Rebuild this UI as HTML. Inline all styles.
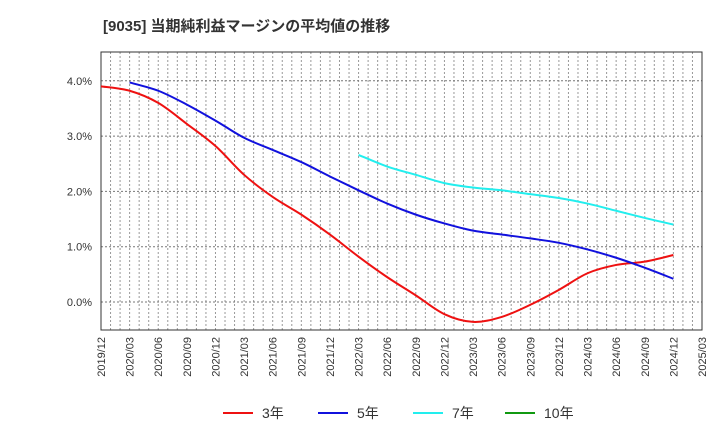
<!DOCTYPE html>
<html><head><meta charset="utf-8"><style>
body{margin:0;background:#fff;font-family:"Liberation Sans","Noto Sans CJK JP",sans-serif;}
</style></head><body>
<svg width="720" height="440" xmlns="http://www.w3.org/2000/svg" font-family="Liberation Sans, Noto Sans CJK JP, sans-serif">
<text x="103" y="31" font-size="15" font-weight="bold" fill="#333">[9035]  当期純利益マージンの平均値の推移</text>
<g id="grid"></g>
<rect x="101" y="52" width="601" height="278" fill="none" stroke="#333"/>
<g id="ylab"></g>
<g id="xlab"></g>
<g id="series"></g>
<g id="legend"></g>
</svg>
<script>
const xLabels=["2019/12","2020/03","2020/06","2020/09","2020/12","2021/03","2021/06","2021/09","2021/12","2022/03","2022/06","2022/09","2022/12","2023/03","2023/06","2023/09","2023/12","2024/03","2024/06","2024/09","2024/12","2025/03"];
const yTicks=[0,1,2,3,4];
const s3=[3.90,3.82,3.60,3.22,2.82,2.30,1.90,1.58,1.22,0.82,0.45,0.12,-0.22,-0.36,-0.27,-0.05,0.22,0.52,0.67,0.73,0.85];
const s5=[3.97,3.82,3.57,3.28,2.97,2.75,2.53,2.27,2.02,1.78,1.58,1.42,1.29,1.22,1.15,1.07,0.95,0.80,0.62,0.42];
const s7=[2.66,2.45,2.30,2.15,2.07,2.02,1.95,1.88,1.78,1.65,1.52,1.40];
const s10=[];
const NS="http://www.w3.org/2000/svg";
const L=101,R=702,T=52,B=330;
const xs=i=>L+i*(R-L)/21;
const ys=v=>302-v*55.3;
function mk(t,a,p){const e=document.createElementNS(NS,t);for(const k in a)e.setAttribute(k,a[k]);p.appendChild(e);return e;}
const grid=document.getElementById('grid');
for(let m=1;m<63;m++){const x=L+m*(R-L)/63;
const g=mk('line',{x1:x,x2:x,y1:T,y2:B,stroke:'#999','stroke-dasharray':'2,2','stroke-width':1},grid);

}
const yl=document.getElementById('ylab');
yTicks.forEach(v=>{const g=mk('line',{x1:L,x2:R,y1:ys(v),y2:ys(v),stroke:'#777','stroke-dasharray':'2,2'},grid);


const t=mk('text',{x:92,y:ys(v)+4,'font-size':11,'text-anchor':'end',fill:'#333'},yl);t.textContent=v.toFixed(1)+'%';

});
const xl=document.getElementById('xlab');
xLabels.forEach((s,i)=>{const x=xs(i)+4;const t=mk('text',{x:x,y:337,'font-size':11,'text-anchor':'end',fill:'#333',transform:`rotate(-90 ${x} 337)`},xl);t.textContent=s;

});
function path(arr,off){const p=arr.map((v,i)=>[xs(i+off),ys(v)]);if(p.length<2)return '';let d=`M${p[0][0]},${p[0][1]}`;
for(let i=0;i<p.length-1;i++){const p0=p[i-1]||p[i],p1=p[i],p2=p[i+1],p3=p[i+2]||p2;
d+=` C${p1[0]+(p2[0]-p0[0])/6},${p1[1]+(p2[1]-p0[1])/6} ${p2[0]-(p3[0]-p1[0])/6},${p2[1]-(p3[1]-p1[1])/6} ${p2[0]},${p2[1]}`;}return d;}
const sg=document.getElementById('series');
[[s3,0,'#ee1111','line-3yr'],[s5,1,'#1111dd','line-5yr'],[s7,9,'#22eeee','line-7yr'],[s10,20-s10.length+1,'#119911','line-10yr']].forEach(([a,o,c,n])=>{
const p=mk('path',{d:path(a,o),fill:'none',stroke:c,'stroke-width':2},sg);

});
const lg=document.getElementById('legend');
[['3年','#ee1111',223],['5年','#1111dd',318],['7年','#22eeee',413],['10年','#119911',505]].forEach(([s,c,x])=>{
const g=mk('g',{},lg);


mk('line',{x1:x,x2:x+30,y1:413,y2:413,stroke:c,'stroke-width':2},g);
const t=mk('text',{x:x+39,y:418,'font-size':14,fill:'#333'},g);t.textContent=s;});
</script>
</body></html>
